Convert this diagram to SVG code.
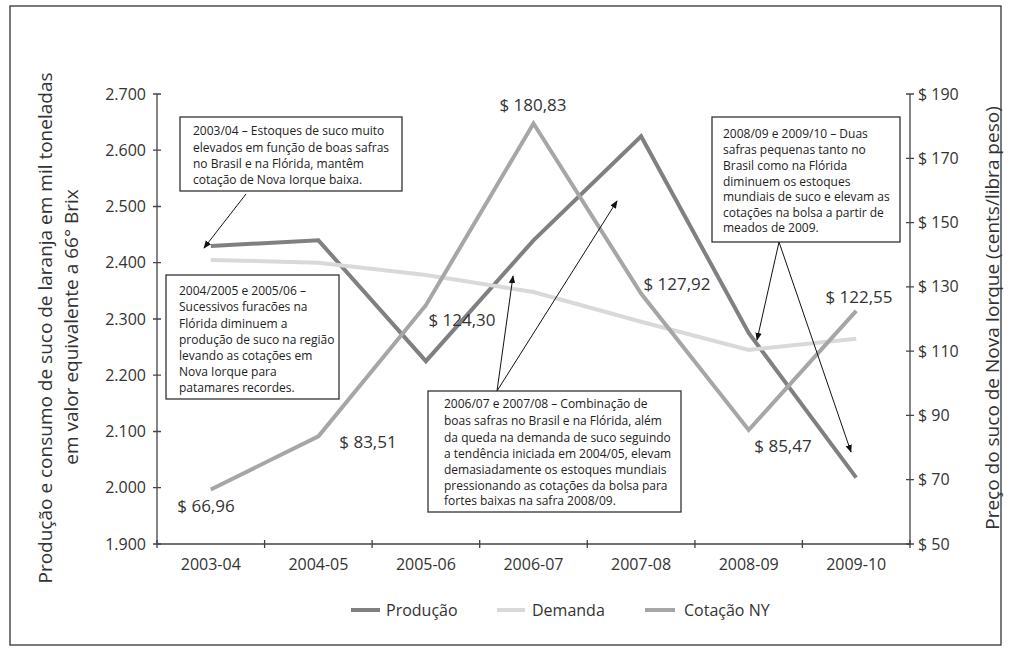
<svg xmlns="http://www.w3.org/2000/svg" width="1010" height="651" viewBox="0 0 1010 651">
<defs>
<marker id="ah" viewBox="0 0 10 10" refX="9" refY="5" markerWidth="8" markerHeight="8" orient="auto" markerUnits="userSpaceOnUse">
<path d="M0,1 L10,5 L0,9 Z" fill="#111"/>
</marker>
<style>
.t{font-family:"Open Sans","Noto Sans",sans-serif;fill:#333}
.ax{font-size:16px}
.pl{font-size:17px}
.bx{font-size:12px;fill:#222}
.box{fill:#fff;stroke:#333;stroke-width:1.3}
.axis{stroke:#444;stroke-width:1.3;fill:none}
.arr{stroke:#111;stroke-width:1;fill:none;marker-end:url(#ah)}
.s{fill:none;stroke-width:4;stroke-linejoin:miter;stroke-linecap:butt}
</style>
</defs>
<rect x="10" y="6" width="991" height="639" fill="#fff" stroke="#333" stroke-width="1.3"/>

<g id="axes">
<path class="axis" d="M157,94 V544 H910 V94"/>
<path class="axis" d="M153,94H161M153,150.2H161M153,206.5H161M153,262.7H161M153,319H161M153,375.2H161M153,431.5H161M153,487.7H161M153,544H161"/>
<path class="axis" d="M906,94H914M906,158.3H914M906,222.6H914M906,286.9H914M906,351.1H914M906,415.4H914M906,479.7H914M906,544H914"/>
<path class="axis" d="M157,540V548M264.6,540V548M372.1,540V548M479.7,540V548M587.3,540V548M694.9,540V548M802.4,540V548M910,540V548"/>
<g class="t ax" text-anchor="end">
<text x="146" y="100">2.700</text><text x="146" y="156">2.600</text><text x="146" y="212">2.500</text><text x="146" y="268">2.400</text><text x="146" y="325">2.300</text><text x="146" y="381">2.200</text><text x="146" y="437">2.100</text><text x="146" y="493">2.000</text><text x="146" y="550">1.900</text>
</g>
<g class="t ax">
<text x="918" y="100">$ 190</text><text x="918" y="164">$ 170</text><text x="918" y="228">$ 150</text><text x="918" y="292">$ 130</text><text x="918" y="357">$ 110</text><text x="918" y="421">$ 90</text><text x="918" y="485">$ 70</text><text x="918" y="550">$ 50</text>
</g>
<g class="t ax" text-anchor="middle">
<text x="210.8" y="570">2003-04</text><text x="318.4" y="570">2004-05</text><text x="425.9" y="570">2005-06</text><text x="533.5" y="570">2006-07</text><text x="641.1" y="570">2007-08</text><text x="748.7" y="570">2008-09</text><text x="856.2" y="570">2009-10</text>
</g>
<g class="t" font-size="19" text-anchor="middle">
<text transform="translate(52,328) rotate(-90)">Produção e consumo de suco de laranja em mil toneladas</text>
<text transform="translate(78,327) rotate(-90)">em valor equivalente a 66° Brix</text>
<text transform="translate(999,318) rotate(-90)">Preço do suco de Nova Iorque (cents/libra peso)</text>
</g>
</g>

<g id="series">
<polyline id="producao" class="s" stroke="#808080" points="210.8,245.9 318.4,240.3 425.9,361.2 533.5,240.3 641.1,136.2 748.7,333 856.2,477.6"/>
<polyline id="demanda" class="s" stroke="#d9d9d9" points="210.8,259.9 318.4,262.8 425.9,275.1 533.5,292 641.1,321.8 748.7,349.9 856.2,338.7"/>
<polyline id="cotacao" class="s" stroke="#a6a6a6" points="210.8,489.5 318.4,436.3 425.9,305.2 533.5,123.5 641.1,293.6 748.7,430 856.2,310.8"/>
</g>

<g id="price-labels" class="t pl" text-anchor="middle">
<text x="533" y="111">$ 180,83</text>
<text x="206" y="512">$ 66,96</text>
<text x="368" y="448">$ 83,51</text>
<text x="462" y="326">$ 124,30</text>
<text x="677" y="290">$ 127,92</text>
<text x="783" y="452">$ 85,47</text>
<text x="859" y="303">$ 122,55</text>
</g>

<g id="connectors">
<line class="arr" x1="246" y1="194" x2="204" y2="248"/>
<line class="arr" x1="497" y1="391" x2="513" y2="276"/>
<line class="arr" x1="497" y1="391" x2="617" y2="201"/>
<line class="arr" x1="779" y1="242" x2="757" y2="340"/>
<line class="arr" x1="779" y1="242" x2="851" y2="452"/>
</g>

<g id="note-2003">
<rect class="box" x="180" y="117" width="222" height="74"/>
<g class="t bx">
<text x="193" y="135">2003/04 – Estoques de suco muito</text>
<text x="193" y="152">elevados em função de boas safras</text>
<text x="193" y="168">no Brasil e na Flórida, mantêm</text>
<text x="193" y="184">cotação de Nova Iorque baixa.</text>
</g>
</g>

<g id="note-2004">
<rect class="box" x="166" y="275" width="173" height="124"/>
<g class="t bx">
<text x="179" y="295">2004/2005 e 2005/06 –</text>
<text x="179" y="311">Sucessivos furacões na</text>
<text x="179" y="328">Flórida diminuem a</text>
<text x="179" y="344">produção de suco na região</text>
<text x="179" y="360">levando as cotações em</text>
<text x="179" y="376">Nova Iorque para</text>
<text x="179" y="392">patamares recordes.</text>
</g>
</g>

<g id="note-2006">
<rect class="box" x="428" y="391" width="253" height="121"/>
<g class="t bx">
<text x="444" y="408">2006/07 e 2007/08 – Combinação de</text>
<text x="444" y="425">boas safras no Brasil e na Flórida, além</text>
<text x="444" y="442">da queda na demanda de suco seguindo</text>
<text x="444" y="458">a tendência iniciada em 2004/05, elevam</text>
<text x="444" y="474">demasiadamente os estoques mundiais</text>
<text x="444" y="490">pressionando as cotações da bolsa para</text>
<text x="444" y="505">fortes baixas na safra 2008/09.</text>
</g>
</g>

<g id="note-2008">
<rect class="box" x="712" y="117" width="188" height="125"/>
<g class="t bx">
<text x="723" y="138">2008/09 e 2009/10 – Duas</text>
<text x="723" y="154">safras pequenas tanto no</text>
<text x="723" y="170">Brasil como na Flórida</text>
<text x="723" y="186">diminuem os estoques</text>
<text x="723" y="201">mundiais de suco e elevam as</text>
<text x="723" y="217">cotações na bolsa a partir de</text>
<text x="723" y="232">meados de 2009.</text>
</g>
</g>

<g id="legend">
<line x1="351" y1="610" x2="380" y2="610" stroke="#808080" stroke-width="4"/>
<text class="t ax" x="386" y="616">Produção</text>
<line x1="497" y1="610" x2="525" y2="610" stroke="#d9d9d9" stroke-width="4"/>
<text class="t ax" x="532" y="616">Demanda</text>
<line x1="645" y1="610" x2="675" y2="610" stroke="#a6a6a6" stroke-width="4"/>
<text class="t ax" x="684" y="616">Cotação NY</text>
</g>
</svg>
